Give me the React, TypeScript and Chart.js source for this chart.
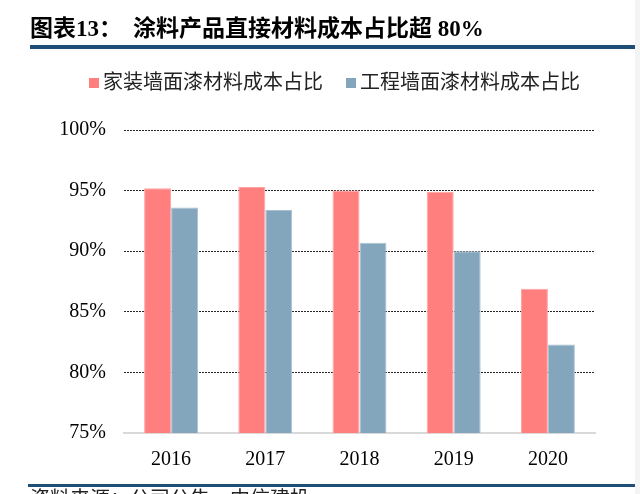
import React, { useEffect, useRef } from "react";
import { Chart, registerables } from "chart.js";

Chart.register(...registerables);

const categories = ["2016", "2017", "2018", "2019", "2020"];
const homeDecorShare = [95.2, 95.3, 95.0, 94.9, 86.9];
const engineeringShare = [93.6, 93.4, 90.7, 90.0, 82.3];
const seriesNames = ["家装墙面漆材料成本占比", "工程墙面漆材料成本占比"];
const yMin = 75;
const yMax = 100;
const yStep = 5;
const titleLead = "图表13：";
const titleText = "涂料产品直接材料成本占比超 80%";
const sourceText = "资料来源：公司公告，中信建投";

const RED = "#FF7F7F";
const BLUE = "#84A6BD";
const NAVY = "#1F4E79";
const SERIF = '"Liberation Serif", "Noto Sans CJK SC", serif';
const CJK = '"Liberation Serif", "Noto Sans CJK SC", sans-serif';

export default function App() {
  const canvasRef = useRef<HTMLCanvasElement | null>(null);

  useEffect(() => {
    const canvas = canvasRef.current;
    if (!canvas) return;
    const chart = new Chart(canvas, {
      type: "bar",
      data: {
        labels: categories,
        datasets: [
          {
            label: seriesNames[0],
            data: homeDecorShare,
            backgroundColor: RED,
            borderColor: "#FFA3A3",
            borderWidth: 1,
            barPercentage: 1,
            categoryPercentage: 0.573,
          },
          {
            label: seriesNames[1],
            data: engineeringShare,
            backgroundColor: BLUE,
            borderColor: "#A9C2D3",
            borderWidth: 1,
            barPercentage: 1,
            categoryPercentage: 0.573,
          },
        ],
      },
      options: {
        responsive: false,
        animation: false,
        devicePixelRatio: 1,
        layout: { padding: { top: 130, left: 0, right: 45, bottom: 21 } },
        plugins: {
          legend: { display: false },
          title: { display: false },
          tooltip: { enabled: false },
        },
        scales: {
          x: {
            grid: { display: false },
            border: { display: true, color: "#D9D9D9", width: 2 },
            ticks: {
              color: "#000",
              font: { family: SERIF, size: 20 },
              padding: 7,
              maxRotation: 0,
            },
            afterFit: (s: any) => {
              s.height = 40;
            },
          },
          y: {
            min: yMin,
            max: yMax,
            grid: {
              drawTicks: false,
              lineWidth: 1,
              color: (ctx: any) =>
                ctx.tick && ctx.tick.value === yMin ? "rgba(0,0,0,0)" : "#262626",
            },
            border: { display: false, dash: [2, 1] },
            ticks: {
              stepSize: yStep,
              color: "#000",
              font: { family: SERIF, size: 20 },
              padding: 18,
              callback: (v: any) => `${v}%`,
            },
            afterFit: (s: any) => {
              s.width = 124;
            },
          },
        },
      },
    });
    return () => chart.destroy();
  }, []);

  const abs = (o: React.CSSProperties): React.CSSProperties => ({ position: "absolute", ...o });

  return (
    <div
      style={{
        position: "fixed",
        left: 0,
        top: 0,
        width: 640,
        height: 494,
        background: "#fff",
        overflow: "hidden",
      }}
    >
      <canvas ref={canvasRef} width={640} height={494} style={abs({ left: 0, top: 0, width: 640, height: 494 })} />
      <span
        style={abs({
          left: 30,
          top: 17,
          fontFamily: CJK,
          fontWeight: 700,
          fontSize: 23,
          lineHeight: "23px",
          color: "#000",
          whiteSpace: "nowrap",
        })}
      >
        {titleLead}
      </span>
      <span
        style={abs({
          left: 133,
          top: 17,
          fontFamily: CJK,
          fontWeight: 700,
          fontSize: 23,
          lineHeight: "23px",
          color: "#000",
          whiteSpace: "nowrap",
        })}
      >
        {titleText}
      </span>
      <div style={abs({ left: 30, top: 45, width: 610, height: 4, background: NAVY })} />
      <div style={abs({ left: 89, top: 78, width: 10, height: 10, background: RED })} />
      <span
        style={abs({
          left: 103,
          top: 72,
          fontFamily: CJK,
          fontSize: 20,
          lineHeight: "20px",
          color: "#222",
          whiteSpace: "nowrap",
        })}
      >
        {seriesNames[0]}
      </span>
      <div style={abs({ left: 346, top: 78, width: 10, height: 10, background: BLUE })} />
      <span
        style={abs({
          left: 360,
          top: 72,
          fontFamily: CJK,
          fontSize: 20,
          lineHeight: "20px",
          color: "#222",
          whiteSpace: "nowrap",
        })}
      >
        {seriesNames[1]}
      </span>
      <div style={abs({ left: 28, top: 484, width: 612, height: 3, background: NAVY })} />
      <span
        style={abs({
          left: 30,
          top: 489,
          fontFamily: CJK,
          fontSize: 20,
          lineHeight: "20px",
          color: "#222",
          whiteSpace: "nowrap",
        })}
      >
        {sourceText}
      </span>
      <div style={abs({ left: 635, top: 0, width: 5, height: 494, background: "#F4F4F4" })} />
    </div>
  );
}
